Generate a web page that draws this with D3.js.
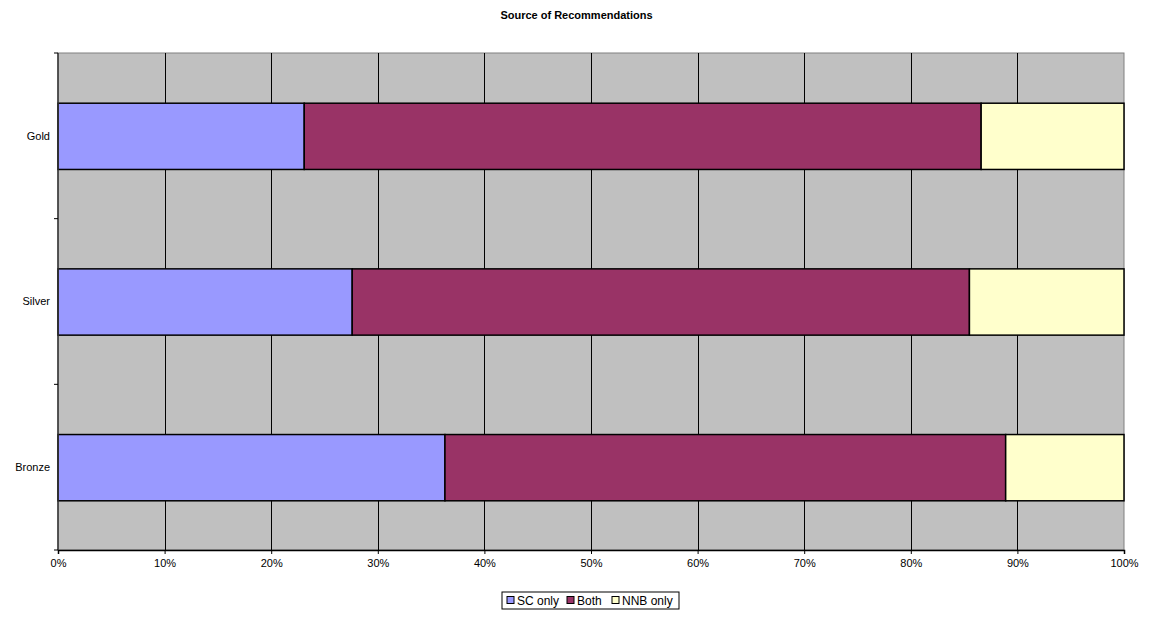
<!DOCTYPE html>
<html>
<head>
<meta charset="utf-8">
<script src="https://cdn.jsdelivr.net/npm/d3@7/dist/d3.min.js"></script>
<style>
  body { margin: 0; background: #fff; }
  text { font-family: "Liberation Sans", Arial, sans-serif; }
</style>
</head>
<body>
<div id="chart"></div>
<script>
// Chart data
const categories = ["Gold", "Silver", "Bronze"];
const seriesNames = ["SC only", "Both", "NNB only"];
const scOnly = [23.1, 27.6, 36.3];
const both = [63.5, 57.9, 52.6];
const nnbOnly = [13.4, 14.5, 11.1];
const xTicks = [0, 10, 20, 30, 40, 50, 60, 70, 80, 90, 100];
const colors = ["#9999FF", "#993366", "#FFFFCC"];

const width = 1153;
const height = 619;
const margin = {left: 58, right: 29, top: 53, bottom: 69};

const svg = d3.select("#chart")
  .append("svg")
  .attr("width", width)
  .attr("height", height);

// build rows for the stack
const rows = categories.map((c, i) => ({
  cat: c, "SC only": scOnly[i], "Both": both[i], "NNB only": nnbOnly[i]
}));
const stacked = d3.stack().keys(seriesNames)(rows);

const xScale = d3.scaleLinear()
  .domain([0, 100])
  .range([margin.left, width - margin.right]);

const yScale = d3.scaleBand()
  .domain(categories)
  .range([margin.top, height - margin.bottom])
  .paddingInner(0.6)
  .paddingOuter(0.3);

// outer band scale for the tick marks between categories
const yOuter = d3.scaleBand()
  .domain(categories)
  .range([margin.top, height - margin.bottom]);

// plot background
svg.append("rect")
  .attr("x", margin.left)
  .attr("y", margin.top)
  .attr("width", width - margin.left - margin.right)
  .attr("height", height - margin.top - margin.bottom)
  .attr("fill", "#C0C0C0")
  .attr("stroke", "#808080")
  .attr("stroke-width", 1);

// vertical gridlines
svg.append("g")
  .selectAll("line")
  .data(xTicks.slice(1, -1))
  .enter()
  .append("line")
  .attr("x1", d => Math.round(xScale(d)) + 0.5)
  .attr("x2", d => Math.round(xScale(d)) + 0.5)
  .attr("y1", margin.top)
  .attr("y2", height - margin.bottom)
  .attr("stroke", "#000")
  .attr("stroke-width", 1);

// bars
svg.append("g")
  .selectAll("g")
  .data(stacked)
  .enter()
  .append("g")
  .attr("fill", (d, i) => colors[i])
  .selectAll("rect")
  .data(d => d)
  .enter()
  .append("rect")
  .attr("x", d => xScale(d[0]))
  .attr("y", d => yScale(d.data.cat) + 0.5)
  .attr("width", d => xScale(d[1]) - xScale(d[0]))
  .attr("height", yScale.bandwidth())
  .attr("stroke", "#000")
  .attr("stroke-width", 1.5);

// x axis
const xAxis = svg.append("g")
  .attr("transform", `translate(0,${height - margin.bottom})`)
  .call(d3.axisBottom(xScale)
    .tickValues(xTicks)
    .tickSize(4)
    .tickFormat(d => d + "%"));
xAxis.select(".domain").attr("stroke", "#000").attr("stroke-width", 1.5);
xAxis.selectAll("text")
  .attr("font-size", "11px")
  .attr("fill", "#000")
  .attr("dy", "0.9em");

// y axis line and ticks at category boundaries
const yAxis = svg.append("g")
  .attr("transform", `translate(${margin.left},0)`);
yAxis.append("line")
  .attr("x1", 0).attr("x2", 0)
  .attr("y1", margin.top)
  .attr("y2", height - margin.bottom)
  .attr("stroke", "#333")
  .attr("stroke-width", 1.5);
const boundaries = categories.map(c => yOuter(c)).concat([height - margin.bottom]);
yAxis.selectAll(".tickmark")
  .data(boundaries)
  .enter()
  .append("line")
  .attr("class", "tickmark")
  .attr("x1", -4).attr("x2", 0)
  .attr("y1", d => d).attr("y2", d => d)
  .attr("stroke", "#000");
yAxis.selectAll(".label")
  .data(categories)
  .enter()
  .append("text")
  .attr("class", "label")
  .attr("x", -8)
  .attr("y", d => yScale(d) + yScale.bandwidth() / 2)
  .attr("dy", "0.35em")
  .attr("text-anchor", "end")
  .attr("font-size", "11px")
  .text(d => d);

// title
svg.append("text")
  .attr("x", width / 2)
  .attr("y", 19)
  .attr("text-anchor", "middle")
  .attr("font-size", "11px")
  .attr("font-weight", "bold")
  .text("Source of Recommendations");

// legend
const legend = svg.append("g").attr("transform", "translate(502,592)");
legend.append("rect")
  .attr("x", 0).attr("y", 0)
  .attr("width", 177).attr("height", 17)
  .attr("fill", "#fff")
  .attr("stroke", "#000");
const legendX = [5, 65, 110];
seriesNames.forEach((name, i) => {
  legend.append("rect")
    .attr("x", legendX[i]).attr("y", 4.5)
    .attr("width", 7).attr("height", 7)
    .attr("fill", colors[i])
    .attr("stroke", "#000");
  legend.append("text")
    .attr("x", legendX[i] + 10)
    .attr("y", 12.5)
    .attr("font-size", "12px")
    .text(name);
});
</script>
</body>
</html>
